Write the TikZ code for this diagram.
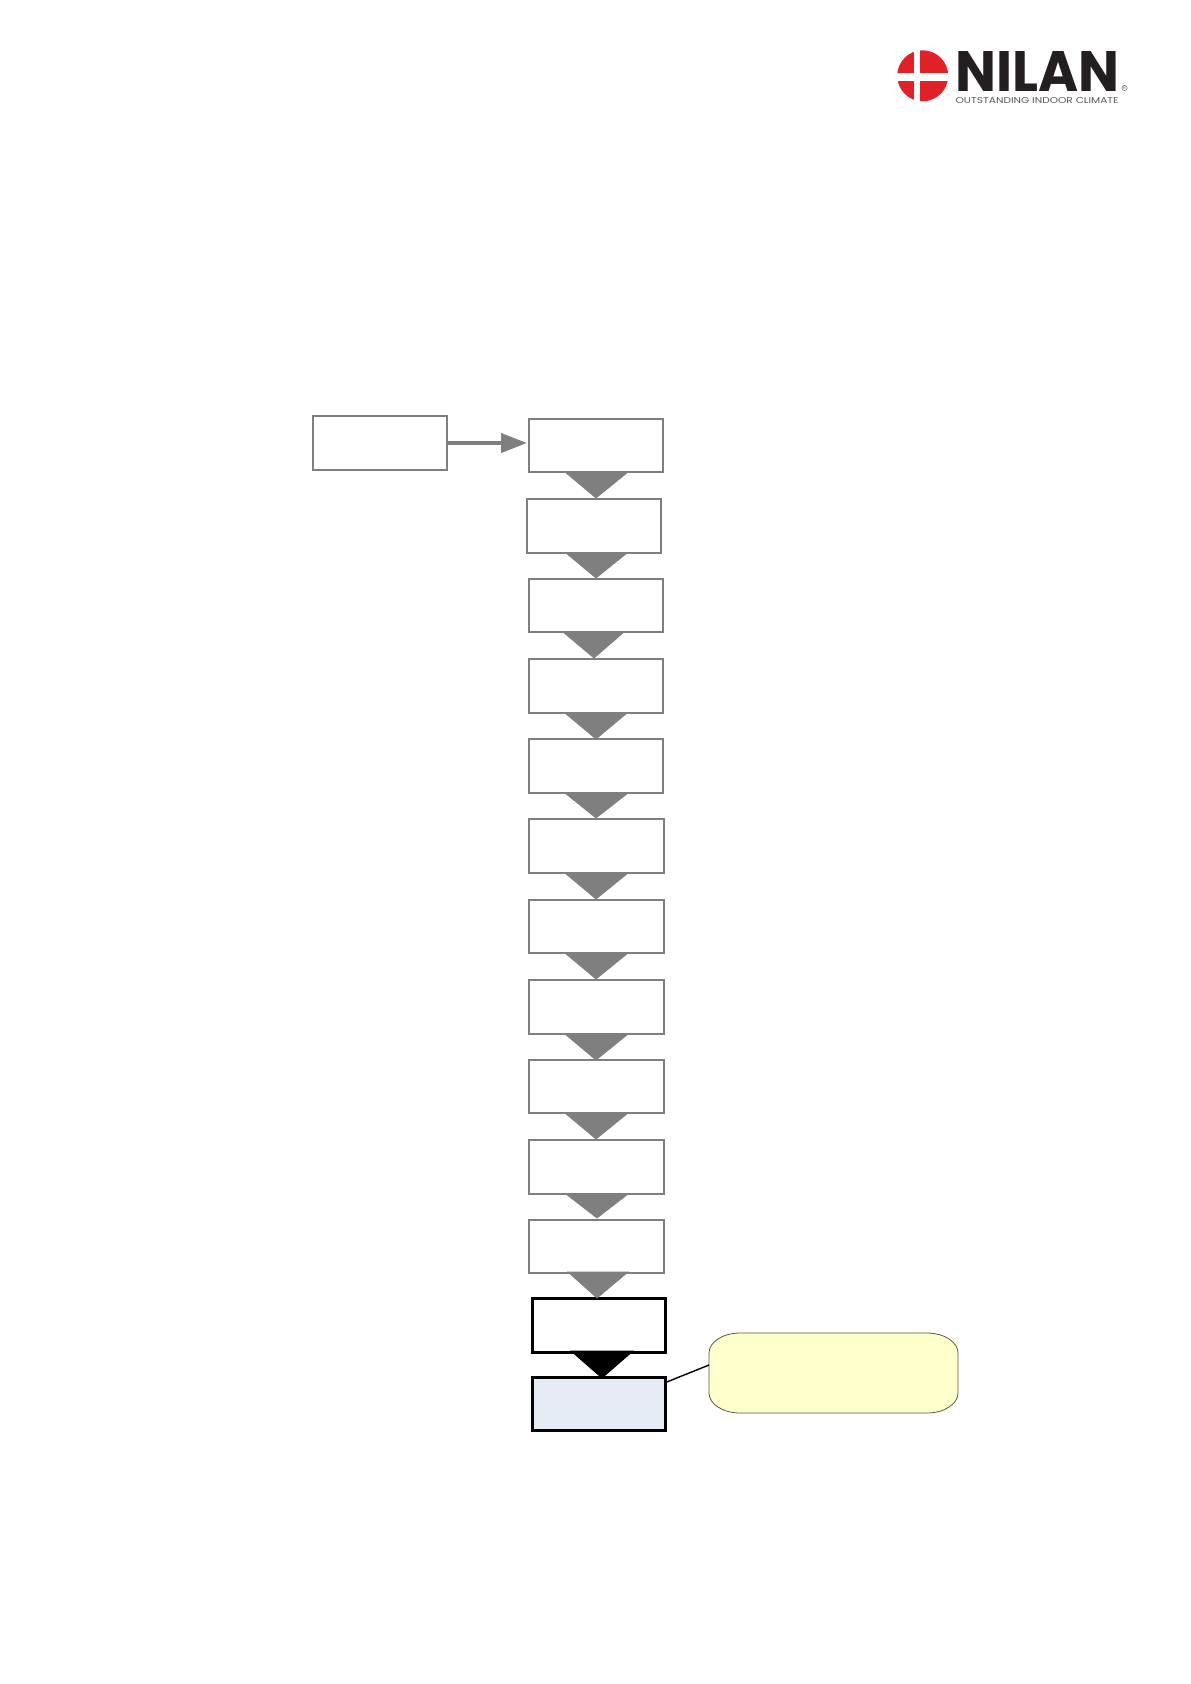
\documentclass[tikz,border=0pt]{standalone}
\usepackage{fontspec}
\usepackage{graphicx}
\usetikzlibrary{arrows.meta}
\setmainfont{Poppins}
\definecolor{flowgray}{HTML}{7F7F7F}
\definecolor{nilanred}{HTML}{E02127}
\definecolor{nilanink}{HTML}{231F20}
\definecolor{boxblue}{HTML}{E6ECF6}
\definecolor{noteyellow}{HTML}{FFFFCC}
\definecolor{noteline}{HTML}{5A5A3C}
\tikzset{
  x=0.05cm,y=-0.05cm,
  flowbox/.style={draw=flowgray,line width=0.14cm,fill=white,outer sep=0pt},
  blackbox/.style={draw=black,line width=0.15cm,fill=white,outer sep=0pt},
  endbox/.style={draw=black,line width=0.15cm,fill=boxblue,outer sep=0pt},
  notebox/.style={draw=noteline,line width=0.04cm,fill=noteyellow},
}
\newcommand{\flowrect}[6]{\node[#1,inner sep=0pt,minimum width=#4*0.05cm-#3*0.05cm,minimum height=#6*0.05cm-#5*0.05cm,anchor=north west] (#2) at (#3,#5) {};}
\newcommand{\flowtri}[6]{\filldraw[#1,line width=0.04cm,line join=miter] (#2-1,#4) -- (#3+1,#4) -- (#5,#6) -- cycle;}
\begin{document}
\begin{tikzpicture}
\useasboundingbox (0,0) rectangle (1191,1684);
\fill[white] (0,0) rectangle (1191,1684);
% logo
\fill[nilanred] (922.7,75.8) circle (25.5);
\fill[white] (913.5,49) rectangle (920,103);
\fill[white] (896,72.5) rectangle (950,80.5);
\node[anchor=south west,inner sep=0pt,text=nilanink] (nilan) at (955.5,92) {\resizebox{8.2cm}{2cm}{\bfseries NILAN}};
\node[anchor=south west,inner sep=0pt,text=nilanink!75] (claim) at (955.5,103.5) {\resizebox{8.15cm}{0.3cm}{OUTSTANDING INDOOR CLIMATE}};
\node[circle,draw=nilanink!55,line width=0.03cm,inner sep=0.02cm,text=nilanink!65] (reg) at (1124.5,88) {\fontsize{6.5pt}{6.5pt}\selectfont R};
% boxes
\flowrect{flowbox}{a}{313}{447}{416}{470}
\flowrect{flowbox}{b1}{529}{663}{419}{472}
\flowrect{flowbox}{b2}{527}{661}{499}{553}
\flowrect{flowbox}{b3}{529}{663}{579}{632}
\flowrect{flowbox}{b4}{529}{663}{659}{713}
\flowrect{flowbox}{b5}{529}{663}{739}{793}
\flowrect{flowbox}{b6}{529}{664}{819}{873}
\flowrect{flowbox}{b7}{529}{664}{900}{953}
\flowrect{flowbox}{b8}{529}{664}{980}{1034}
\flowrect{flowbox}{b9}{529}{664}{1060}{1113}
\flowrect{flowbox}{b10}{529}{664}{1140}{1194}
\flowrect{flowbox}{b11}{529}{664}{1220}{1273}
\flowrect{blackbox}{b12}{532}{665}{1298}{1352}
\flowrect{endbox}{b13}{532}{665.5}{1377}{1430}
\node[inner sep=0pt,outer sep=0pt,minimum width=249*0.05cm,minimum height=80*0.05cm,anchor=north west] (note) at (709,1333) {};
\draw[notebox]
  (709,1353) arc[start angle=180,end angle=90,x radius=1.55cm,y radius=1cm]
  -- (927,1333) arc[start angle=90,end angle=0,x radius=1.55cm,y radius=1cm]
  -- (958,1393) arc[start angle=0,end angle=-90,x radius=1.55cm,y radius=1cm]
  -- (740,1413) arc[start angle=-90,end angle=-180,x radius=1.55cm,y radius=1cm]
  -- cycle;
% triangles
\flowtri{flowgray}{566}{627}{472}{596}{498}
\flowtri{flowgray}{567}{626}{553}{596}{578}
\flowtri{flowgray}{564}{623}{632}{594}{658}
\flowtri{flowgray}{566}{626}{713}{596}{739}
\flowtri{flowgray}{566}{627}{793}{596}{818}
\flowtri{flowgray}{566}{627}{873}{596}{899}
\flowtri{flowgray}{566}{627}{953}{596}{979}
\flowtri{flowgray}{566}{627}{1034}{596}{1060}
\flowtri{flowgray}{566}{627}{1113}{596}{1139}
\flowtri{flowgray}{567}{627}{1194}{597}{1218}
\flowtri{flowgray}{569}{627}{1272}{597}{1298}
\flowtri{black}{572}{632}{1351}{602}{1378}
% connectors
\draw[flowgray,line width=0.2cm,-{Triangle[length=1.3cm,width=0.95cm]},shorten >=0.1cm] (a.east) -- (a.east -| b1.west);
\draw[black,line width=0.07cm] ([yshift=1.05cm]b13.east) -- ([yshift=0.4cm]note.west);
\end{tikzpicture}
\end{document}
